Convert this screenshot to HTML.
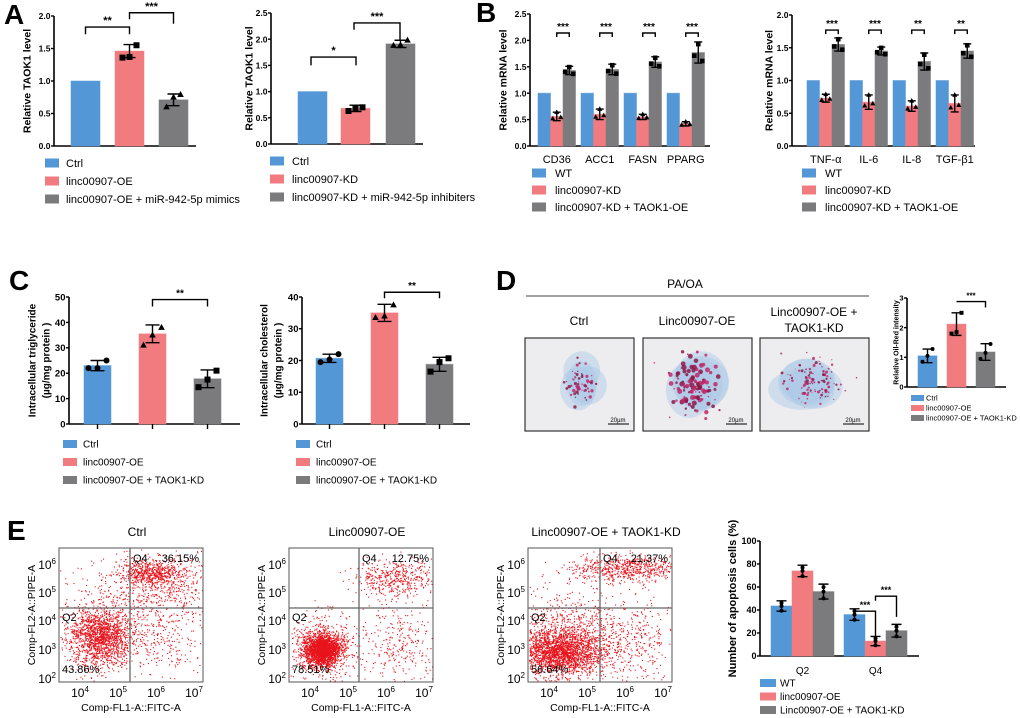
<!DOCTYPE html>
<html><head><meta charset="utf-8">
<style>
html,body{margin:0;padding:0;background:#fff;}
svg{display:block;font-family:"Liberation Sans",Arial,sans-serif;}
</style></head>
<body>
<svg id="fig" width="1020" height="718" viewBox="0 0 1020 718" xmlns="http://www.w3.org/2000/svg">
<defs><clipPath id="clip0"><rect x="525" y="338" width="109" height="93"/></clipPath><clipPath id="clip1"><rect x="643" y="338" width="109" height="93"/></clipPath><clipPath id="clip2"><rect x="760" y="338" width="109" height="93"/></clipPath></defs>
<g font-weight="bold" font-size="28" fill="#000">
<text x="4" y="24">A</text>
<text x="476" y="22">B</text>
<text x="9" y="290">C</text>
<text x="496" y="290">D</text>
<text x="7" y="540">E</text>
</g>
</svg>
<script>
// ---------- data ----------
const colors=["#5497d6","#f27b80","#7b7b7e"];
// A1
const a1Labels=["Ctrl","linc00907-OE","linc00907-OE + miR-942-5p mimics"];
const a1Values=[1,1.46,0.71];
const a1Err=[0,0.1,0.09];
const a1Pts=[[1],[1.36,1.37,1.55],[0.6,0.75,0.79]];
const a1Ticks=[0,0.5,1.0,1.5,2.0];
// A2
const a2Labels=["Ctrl","linc00907-KD","linc00907-KD + miR-942-5p inhibiters"];
const a2Values=[1,0.68,1.91];
const a2Err=[0,0.06,0.07];
const a2Pts=[[1],[0.63,0.69,0.7],[1.88,1.89,1.98]];
const a2Ticks=[0,0.5,1.0,1.5,2.0,2.5];
// B1
const b1Cats=["CD36","ACC1","FASN","PPARG"];
const b1Labels=["WT","linc00907-KD","linc00907-KD + TAOK1-OE"];
const b1WT=[1,1,1,1];
const b1KD=[0.56,0.6,0.55,0.42];
const b1OE=[1.43,1.45,1.59,1.77];
const b1KDErr=[0.08,0.1,0.05,0.04];
const b1OEErr=[0.08,0.1,0.1,0.2];
const b1Ticks=[0,0.5,1.0,1.5,2.0,2.5];
const b1Stars=["***","***","***","***"];
// B2
const b2Cats=["TNF-α","IL-6","IL-8","TGF-β1"];
const b2WT=[1,1,1,1];
const b2KD=[0.73,0.67,0.61,0.65];
const b2OE=[1.55,1.45,1.29,1.45];
const b2KDErr=[0.06,0.11,0.08,0.13];
const b2OEErr=[0.1,0.06,0.13,0.11];
const b2Ticks=[0,0.5,1.0,1.5,2.0];
const b2Stars=["***","***","**","**"];
// C
const cLabels=["Ctrl","linc00907-OE","linc00907-OE + TAOK1-KD"];
const c1Values=[23,35.5,17.8];
const c1Err=[2,3.5,3.5];
const c1Pts=[[22,22,25],[31,35,38],[14.5,17.5,21]];
const c1Ticks=[0,10,20,30,40,50];
const c2Values=[20.7,35,18.8];
const c2Err=[1.3,2.7,2.2];
const c2Pts=[[19.5,20.3,22],[33.5,34,37.5],[16.5,19.5,20.7]];
const c2Ticks=[0,10,20,30,40];
// D
const dValues=[1.05,2.12,1.18];
const dErr=[0.23,0.38,0.28];
const dPts=[[0.85,1.05,1.28],[1.8,1.85,2.5],[0.95,1.15,1.45]];
const dTicks=[0,1,2,3];
// E
const eCats=["Q2","Q4"];
const eLabels=["WT","linc00907-OE","Linc00907-OE + TAOK1-KD"];
const eWT=[43.5,36];
const eOE=[74,13];
const eKD=[56,22];
const eWTErr=[4.5,5];
const eOEErr=[5,4];
const eKDErr=[6.5,5.5];
const eTicks=[0,20,40,60,80,100];

// ---------- helpers ----------
const svg=document.getElementById('fig');
const NS="http://www.w3.org/2000/svg";
function el(tag,attrs,parent){const e=document.createElementNS(NS,tag);for(const k in attrs)e.setAttribute(k,attrs[k]);(parent||svg).appendChild(e);return e;}
function txt(s,attrs,parent){const t=el('text',attrs,parent);t.textContent=s;return t;}
function fmt(v,dec){return dec?v.toFixed(1):String(v);}

function axes(g,ax,ticks,dec,fs,titleLines,titleX){
  const y=v=>ax.y0-(v-ax.min)/(ax.max-ax.min)*(ax.y0-ax.y1);
  const yl=el('line',{x1:ax.x,y1:ax.y1,x2:ax.x,y2:ax.y0,stroke:'#000','stroke-width':1.6},g);
  
  
  const xl=el('line',{x1:ax.x,y1:ax.y0,x2:ax.xEnd,y2:ax.y0,stroke:'#000','stroke-width':1.6},g);
  
  
  ticks.forEach(t=>{
    const tk=el('line',{x1:ax.x-3,y1:y(t),x2:ax.x,y2:y(t),stroke:'#000','stroke-width':1.4},g);
    
    
    const tl=txt(fmt(t,dec),{x:ax.x-3.5,y:y(t)+fs*0.36,'text-anchor':'end','font-size':fs,'font-weight':'bold'},g);
    
    
  });
  const ls=ax.tls||ax.tfs*1.2;
  const tg=el('g',{transform:`translate(${titleX},${(ax.y0+ax.y1)/2}) rotate(-90)`},g);
  titleLines.forEach((s,i)=>{
    const tt=txt(s,{x:0,y:(i-(titleLines.length-1)/2)*ls+ax.tfs*0.35,'text-anchor':'middle','font-size':ax.tfs,'font-weight':'bold'},tg);
    
    
  });
  return y;
}
function bar(g,x,w,v,y,color){
  const r=el('rect',{x:x,y:y(v),width:w,height:y(0)-y(v),fill:color,stroke:color,'stroke-opacity':0.5},g);
  
  
}
function errbar(g,cx,v,e,y,cap){
  if(!e)return;
  const p=el('path',{d:`M${cx},${y(v-e)}V${y(v+e)}M${cx-cap},${y(v+e)}H${cx+cap}M${cx-cap},${y(v-e)}H${cx+cap}`,stroke:'#000','stroke-width':1.4,fill:'none'},g);
  
  
}
function point(g,cx,cy,shape,s){
  let p;
  if(shape==='sq')p=el('rect',{x:cx-s,y:cy-s,width:2*s,height:2*s,fill:'#000'},g);
  else if(shape==='tri')p=el('path',{d:`M${cx},${cy-s*1.2}L${cx+s*1.1},${cy+s*0.8}L${cx-s*1.1},${cy+s*0.8}Z`,fill:'#000'},g);
  else p=el('circle',{cx:cx,cy:cy,r:s,fill:'#000'},g);
  
  
}
function pts(g,cx,vals,y,shape,s,spread){
  const offs=vals.length===3?[-spread,0,spread]:[0];
  vals.forEach((v,i)=>point(g,cx+offs[i],y(v),shape,s));
}
function bracket(g,x1,x2,yTop,l1,l2,stars,fs){
  const p=el('path',{d:`M${x1},${yTop+l1}V${yTop}H${x2}V${yTop+l2}`,stroke:'#000','stroke-width':1.4,fill:'none'},g);
  
  
  const t=txt(stars,{x:(x1+x2)/2,y:yTop-3,'text-anchor':'middle','font-size':fs,'font-weight':'bold'},g);
  
  
}
function legend(g,x,y0,dy,labels,fs,sw,sh,tx){
  labels.forEach((l,i)=>{
    const r=el('rect',{x:x,y:y0+i*dy-sh/2,width:sw,height:sh,fill:colors[i]},g);
    
    
    const t=txt(l,{x:tx,y:y0+i*dy+fs*0.36,'font-size':fs},g);
    
    
  });
}
function group(name){const g=el('g',{});return g;}

// ---------- A1 ----------
(function(){
  const g=group('chart-a1');
  const y=axes(g,{x:54,y0:146,y1:16,min:0,max:2,xEnd:196,tfs:10.5},a1Ticks,true,8.5,["Relative TAOK1 level"],27);
  const xs=[71,115,159],w=29;
  a1Values.forEach((v,i)=>bar(g,xs[i],w,v,y,colors[i]));
  a1Values.forEach((v,i)=>errbar(g,xs[i]+w/2,v,a1Err[i],y,6));
  const sh=['','sq','tri'];
  a1Pts.forEach((p,i)=>{if(i)pts(g,xs[i]+w/2,p,y,sh[i],3,7);});
  bracket(g,85.5,129.5,y(1.83),y(1.72)-y(1.83),y(1.72)-y(1.83),"**",11);
  bracket(g,129.5,173.5,y(2.05),y(1.95)-y(2.05),y(1.88)-y(2.05),"***",11);
  legend(g,45,163,18,a1Labels,11,14,9,66);
})();
// ---------- A2 ----------
(function(){
  const g=group('chart-a2');
  const y=axes(g,{x:271,y0:144,y1:13,min:0,max:2.5,xEnd:423,tfs:10.5},a2Ticks,true,8.5,["Relative TAOK1 level"],249);
  const xs=[298,341,386],w=29;
  a2Values.forEach((v,i)=>bar(g,xs[i],w,v,y,colors[i]));
  a2Values.forEach((v,i)=>errbar(g,xs[i]+w/2,v,a2Err[i],y,6));
  const sh=['','sq','tri'];
  a2Pts.forEach((p,i)=>{if(i)pts(g,xs[i]+w/2,p,y,sh[i],3,7);});
  bracket(g,311,356,y(1.66),y(1.5)-y(1.66),y(1.5)-y(1.66),"*",11);
  bracket(g,354,400,y(2.31),y(2.18)-y(2.31),y(1.98)-y(2.31),"***",11);
  legend(g,270,161,18,a2Labels,11,14,9,292);
})();
// ---------- B ----------
function bChart(name,ax,ticks,title,titleX,cats,wt,kd,oe,kdE,oeE,stars,starV,legX){
  const g=group(name);
  const y=axes(g,ax,ticks,true,8.5,[title],titleX);
  const w=12.5;
  cats.forEach((c,i)=>{
    const x0=ax.g0+i*43;
    bar(g,x0,w,wt[i],y,colors[0]);
    bar(g,x0+w,w,kd[i],y,colors[1]);
    bar(g,x0+2*w,w,oe[i],y,colors[2]);
    errbar(g,x0+1.5*w,kd[i],kdE[i],y,4);
    errbar(g,x0+2.5*w,oe[i],oeE[i],y,4);
    pts(g,x0+1.5*w,[kd[i]-kdE[i]*0.5,kd[i]+kdE[i],kd[i]-kdE[i]*0.2],y,'tri',2.3,4);
    pts(g,x0+2.5*w,[oe[i]-oeE[i]*0.3,oe[i]+oeE[i]*0.8,oe[i]-oeE[i]*0.8],y,'sq',2.3,4);
    bracket(g,x0+1.5*w,x0+2.5*w,y(starV),4,4,stars[i],10);
    const t=txt(c,{x:x0+1.5*w,y:ax.y0+17,'text-anchor':'middle','font-size':11},g);
    
    
  });
  legend(g,legX,173,17,b1Labels,11,14,9,legX+23);
}
bChart('chart-b1',{x:530,y0:146,y1:14,min:0,max:2.5,xEnd:710,tfs:10.5,g0:538},b1Ticks,"Relative mRNA level",503,b1Cats,b1WT,b1KD,b1OE,b1KDErr,b1OEErr,b1Stars,2.14,532);
bChart('chart-b2',{x:792,y0:146,y1:15,min:0,max:2,xEnd:975,tfs:10.5,g0:807},b2Ticks,"Relative mRNA level",769,b2Cats,b2WT,b2KD,b2OE,b2KDErr,b2OEErr,b2Stars,1.77,802);

// ---------- C ----------
function cChart(name,ax,ticks,vals,err,p,titleLines,titleX,xs,brV,l1,l2){
  const g=group(name);
  const y=axes(g,ax,ticks,false,9.5,titleLines,titleX);
  const w=27;
  const sh=['circ','tri','sq'];
  vals.forEach((v,i)=>{
    bar(g,xs[i],w,v,y,colors[i]);
    errbar(g,xs[i]+w/2,v,err[i],y,7);
    pts(g,xs[i]+w/2,p[i],y,sh[i],3,9);
    const tk=el('line',{x1:xs[i]+w/2,y1:ax.y0,x2:xs[i]+w/2,y2:ax.y0+5,stroke:'#000','stroke-width':1.4},g);
    
    
  });
  bracket(g,xs[1]+w/2,xs[2]+w/2,y(brV),l1,l2,"**",10);
  legend(g,ax.x-6,444,18,cLabels,10,14,8,ax.x+14);
}
cChart('chart-c1',{x:69,y0:424,y1:297,min:0,max:50,xEnd:240,tfs:10,tls:14},c1Ticks,c1Values,c1Err,c1Pts,["Intracellular triglyceride","(µg/mg protein )"],39,[84,139,194],49,7,7);
cChart('chart-c2',{x:302,y0:424,y1:297,min:0,max:40,xEnd:470,tfs:10,tls:14},c2Ticks,c2Values,c2Err,c2Pts,["Intracellular cholesterol","(µg/mg protein )"],271,[316,371,426],41.5,6,6);

// ---------- D bar chart ----------
(function(){
  const g=group('chart-d');
  const y=axes(g,{x:907,y0:387,y1:298,min:0,max:3,xEnd:1006,tfs:7},dTicks,false,7.5,["Relative Oil-Red intensity"],896);
  const xs=[918,947,976],w=19;
  dValues.forEach((v,i)=>{bar(g,xs[i],w,v,y,colors[i]);errbar(g,xs[i]+w/2,v,dErr[i],y,5);});
  const sh=['circ','sq','circ'];
  dPts.forEach((p,i)=>pts(g,xs[i]+w/2,p,y,sh[i],2,5));
  bracket(g,xs[1]+w/2,xs[2]+w/2,y(2.88),0,6,"***",8);
  legend(g,911,398,10,cLabels,7.5,13,6,926);
})();

// ---------- E bar chart ----------
(function(){
  const g=group('chart-e');
  const y=axes(g,{x:760,y0:656,y1:541,min:0,max:100,xEnd:919,tfs:11},eTicks,false,9,["Number of apoptosis cells (%)"],732);
  const w=21;
  const series=[eWT,eOE,eKD],errs=[eWTErr,eOEErr,eKDErr];
  eCats.forEach((c,ci)=>{
    const x0=771+ci*73;
    series.forEach((s,si)=>{
      bar(g,x0+si*w,w,s[ci],y,colors[si]);
      errbar(g,x0+si*w+w/2,s[ci],errs[si][ci],y,5);
      pts(g,x0+si*w+w/2,[s[ci]-errs[si][ci]*0.9,s[ci],s[ci]+errs[si][ci]*0.6],y,'circ',2,0);
    });
    const t=txt(c,{x:x0+1.5*w,y:674,'text-anchor':'middle','font-size':10},g);
    
    
  });
  bracket(g,854.5,875.5,y(39),y(35)-y(39),y(16)-y(39),"***",9);
  bracket(g,875.5,896.5,y(52),y(48)-y(52),y(34)-y(52),"***",9);
  legend(g,760,683,13.5,eLabels,10,16,8,780);
})();

// ---------- D microscopy (decorative) ----------
let seed=12345;
function rnd(){seed=(seed*1103515245+12345)%2147483648;return seed/2147483648;}
function gauss(){let u=rnd()||1e-6,v=rnd();return Math.sqrt(-2*Math.log(u))*Math.cos(2*Math.PI*v);}
(function(){
  const g=group('microscopy-panel');
  const l=el('line',{x1:526,y1:296,x2:869,y2:296,stroke:'#444','stroke-width':1},g);
  
  
  const t=txt('PA/OA',{x:685,y:288,'text-anchor':'middle','font-size':12},g);
  
  
  const heads=[["Ctrl"],["Linc00907-OE"],["Linc00907-OE +","TAOK1-KD"]];
  const bx=[525,643,760];
  const blobs=[[580,383,20,24,55,0.9],[695,385,30,36,120,1.2],[812,382,34,28,110,0.7]];
  heads.forEach((h,i)=>{
    h.forEach((s,j)=>{const tt=txt(s,{x:bx[i]+54,y:(h.length===1?325:316+j*16),'text-anchor':'middle','font-size':12},g);
      
      });
    const r=el('rect',{x:bx[i],y:338,width:109,height:93,fill:'#ededf0'},g);
    
    
    const cg=el('g',{'clip-path':`url(#clip${i})`},g);
    const b=blobs[i];
    for(let k=0;k<4;k++){
      const e=el('ellipse',{cx:b[0]+gauss()*6,cy:b[1]+gauss()*6,rx:b[2]*(0.7+rnd()*0.3),ry:b[3]*(0.7+rnd()*0.3),fill:'#a9c8e6',opacity:0.45},cg);
      
      
    }
    for(let k=0;k<b[4];k++){
      const c=el('circle',{cx:b[0]+gauss()*b[2]*0.4,cy:b[1]+gauss()*b[3]*0.4,r:(0.6+rnd()*1.6)*b[5],fill:rnd()<0.5?'#c0286a':'#8e1848',opacity:0.85},cg);
      
      
    }
    const fr=el('rect',{x:bx[i],y:338,width:109,height:93,fill:'none',stroke:'#333','stroke-width':1.2},g);
    
    
    const sb=el('line',{x1:bx[i]+83,y1:424,x2:bx[i]+104,y2:424,stroke:'#000','stroke-width':1},g);
    
    
    const st=txt('20µm',{x:bx[i]+93,y:422,'text-anchor':'middle','font-size':6},g);
    
    
  });
})();

// ---------- E flow cytometry plots (decorative scatter) ----------
function flow(name,x0,title,vx,q4,q2,clusters){
  const g=group(name);
  const x1=x0+144,y0=548,y1=682,hy=608;
  const tt=txt(title,{x:x0+78,y:536,'text-anchor':'middle','font-size':12},g);
  
  
  clusters.forEach(c=>{
    for(let k=0;k<c[4];k++){
      const px=c[0]+gauss()*c[2],py=c[1]+gauss()*c[3];
      if(px<x0+1||px>x1-1||py<y0+1||py>y1-1)continue;
      el('rect',{x:px,y:py,width:1.1,height:1.1,fill:'#e8141c'},g);
    }
  });
  const box=el('rect',{x:x0,y:y0,width:144,height:134,fill:'none',stroke:'#555','stroke-width':1},g);
  
  
  const gl=el('path',{d:`M${vx},${y0}V${y1}M${x0},${hy}H${x1}`,stroke:'#666','stroke-width':1.3},g);
  
  
  [['Q4',vx+3,562],['Q2',x0+3,621]].forEach(a=>{const q=txt(a[0],{x:a[1],y:a[2],'font-size':11},g);});
  const p4=txt(q4,{x:x1-4,y:562,'text-anchor':'end','font-size':11},g);
  
  
  const p2=txt(q2,{x:x0+3,y:673,'font-size':11},g);
  
  
  const ye=[6,5,4,3,2],yy=[565,593,621,650,679];
  ye.forEach((e,i)=>{
    const t=el('text',{x:x0-3,y:yy[i]+4,'text-anchor':'end','font-size':12},g);
    t.innerHTML=`10<tspan font-size="8" dy="-5">${e}</tspan>`;
    
    
  });
  [4,5,6,7].forEach((e,i)=>{
    const t=el('text',{x:x0+21+i*38,y:697,'text-anchor':'middle','font-size':12},g);
    t.innerHTML=`10<tspan font-size="8" dy="-5">${e}</tspan>`;
    
    
  });
  const xt=txt('Comp-FL1-A::FITC-A',{x:x0+72,y:711,'text-anchor':'middle','font-size':10.5},g);
  
  
  const yt=txt('Comp-FL2-A::PIPE-A',{x:0,y:0,'text-anchor':'middle','font-size':10.5,transform:`translate(${x0-24},${(y0+y1)/2}) rotate(-90)`},g);
  
  
}
flow('flow-ctrl',59,'Ctrl',130,'36.15%','43.86%',[[100,636,16,15,1700],[150,572,16,6,500],[165,583,28,16,500],[160,635,25,22,300],[120,600,30,25,200]]);
flow('flow-oe',289,'Linc00907-OE',359,'12.75%','78.51%',[[322,650,9,8,2000],[322,645,18,16,600],[396,578,22,9,450],[400,640,20,22,300]]);
flow('flow-oe-kd',528,'Linc00907-OE + TAOK1-KD',600,'21.37%','56.64%',[[560,652,22,11,2200],[560,630,30,20,700],[625,568,28,7,700],[630,640,25,22,400]]);
</script>
</body></html>
